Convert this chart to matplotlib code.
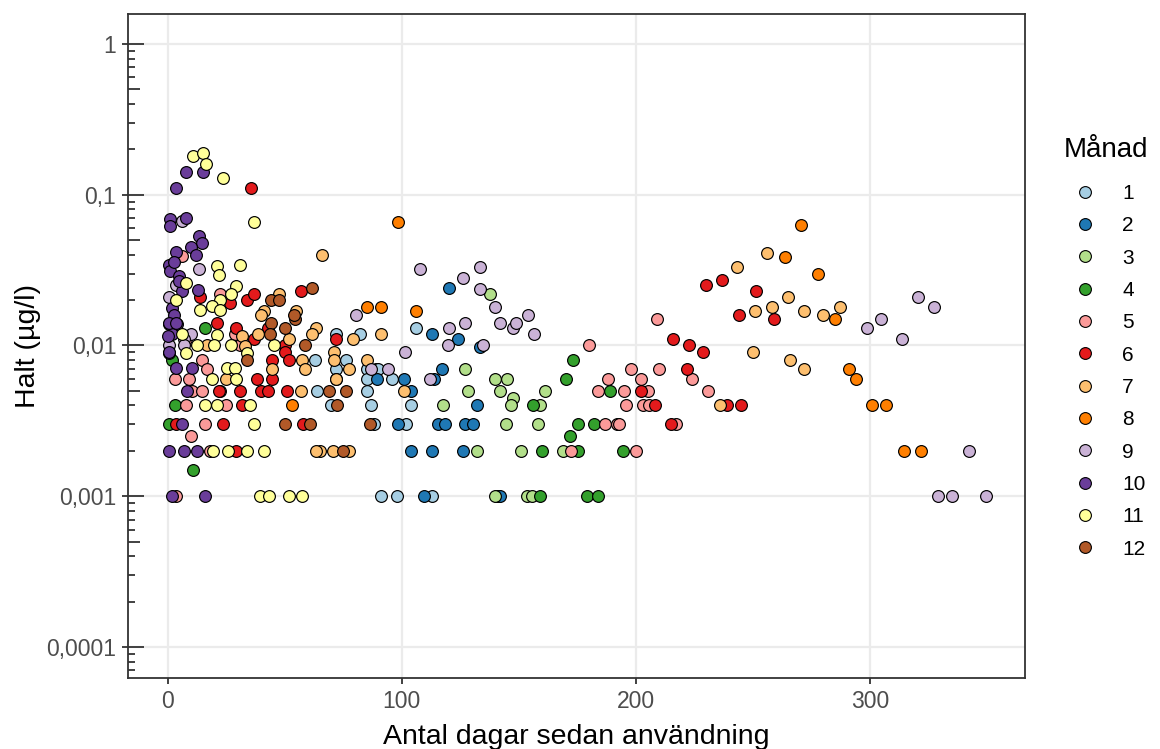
import matplotlib
matplotlib.use("Agg")
import matplotlib.pyplot as plt
from matplotlib.lines import Line2D
from matplotlib.transforms import blended_transform_factory
import numpy as np

plt.rcParams['font.family'] = ['Liberation Sans', 'DejaVu Sans']

# days since use / concentration (ug/l), one pair of lists per month
m01_day = [63, 64, 70, 72, 72, 72, 76, 82, 85, 85, 85, 87, 88, 89, 90, 91, 96, 98, 102, 104, 106, 113]
m01_conc = [0.008, 0.005, 0.004, 0.012, 0.007, 0.006, 0.008, 0.012, 0.007, 0.006, 0.005, 0.004, 0.003,
            0.007, 0.007, 0.001, 0.006, 0.001, 0.003, 0.004, 0.013, 0.001]

m02_day = [120, 113, 124, 133.5, 117, 114, 89.5, 101, 104, 132, 98.5, 115.5, 118.5, 127, 130.5, 104, 113,
           126, 109.5, 140.5, 142]
m02_conc = [0.024, 0.012, 0.011, 0.0098, 0.007, 0.006, 0.006, 0.006, 0.005, 0.004, 0.003, 0.003, 0.003,
            0.003, 0.003, 0.002, 0.002, 0.002, 0.001, 0.001, 0.001]

m03_day = [137.5, 127, 140, 145, 142, 147.5, 128.5, 161, 117.5, 146.5, 159, 144.5, 158, 132, 151, 169,
           140, 153.5, 155.5]
m03_conc = [0.022, 0.007, 0.006, 0.006, 0.005, 0.0045, 0.005, 0.005, 0.004, 0.004, 0.004, 0.003, 0.003,
            0.002, 0.002, 0.002, 0.001, 0.001, 0.001]

m04_day = [173, 170, 189, 175.5, 182, 172, 175.5, 194.5, 179, 184, 156, 160, 159, 3, 0.6, 11, 1.7, 16]
m04_conc = [0.008, 0.006, 0.005, 0.003, 0.003, 0.0025, 0.002, 0.002, 0.001, 0.001, 0.004, 0.002, 0.001,
            0.004, 0.003, 0.0015, 0.008, 0.013]

m05_day = [209, 180, 198, 210, 188, 202, 224, 184, 195, 205, 231, 196, 203, 205.5, 187, 192, 193, 217,
           172.5, 200,
           6, 22.6, 29, 7.7, 31, 14.8, 17, 3, 9, 10.5, 14.8, 22.6, 7.7, 25, 16, 10, 18, 3.4]
m05_conc = [0.015, 0.01, 0.007, 0.007, 0.006, 0.006, 0.006, 0.005, 0.005, 0.005, 0.005, 0.004, 0.004,
            0.004, 0.003, 0.003, 0.003, 0.003, 0.002, 0.002,
            0.039, 0.022, 0.012, 0.011, 0.01, 0.008, 0.007, 0.006, 0.006, 0.005, 0.005, 0.005, 0.004,
            0.004, 0.003, 0.0025, 0.002, 0.001]

m06_day = [35.7, 230, 237, 251.5, 244, 259, 216, 222.7, 228.7, 222, 202, 208, 239, 245, 215,
           13.8, 26.8, 34, 36.8, 21, 29.4, 42.8, 36.8, 50, 50, 44.6, 51.7, 38, 44.6, 22, 30.8, 39.7,
           42.8, 51, 32, 3.4, 23.8, 58, 29.4, 57, 72]
m06_conc = [0.11, 0.025, 0.027, 0.023, 0.016, 0.015, 0.011, 0.01, 0.009, 0.007, 0.005, 0.004, 0.004,
            0.004, 0.003,
            0.021, 0.019, 0.02, 0.022, 0.014, 0.013, 0.013, 0.011, 0.01, 0.009, 0.008, 0.008, 0.006,
            0.006, 0.005, 0.005, 0.005, 0.005, 0.005, 0.004, 0.003, 0.003, 0.003, 0.002, 0.023, 0.011]

m07_day = [243, 250.7, 256, 258, 265, 272, 280, 287, 250, 266, 272, 236,
           66, 79, 91, 71, 71, 77.7, 85, 72, 100.8, 65, 70.6, 77.7, 41, 47.5, 55, 63.5, 61.7, 51.7,
           57.4, 44.6, 58.8, 57, 63.5, 32, 38.5, 25, 39.7, 33, 17]
m07_conc = [0.033, 0.017, 0.041, 0.018, 0.021, 0.017, 0.016, 0.018, 0.009, 0.008, 0.007, 0.004,
            0.04, 0.011, 0.012, 0.009, 0.008, 0.007, 0.008, 0.006, 0.005, 0.002, 0.002, 0.002, 0.017,
            0.022, 0.017, 0.013, 0.012, 0.011, 0.008, 0.007, 0.007, 0.005, 0.002, 0.0115, 0.012, 0.006,
            0.016, 0.0099, 0.01]

m08_day = [98.3, 85, 91, 106, 53, 270.5, 263.5, 277.7, 285, 291, 294, 301, 307, 314.4, 321.8]
m08_conc = [0.066, 0.018, 0.018, 0.017, 0.004, 0.063, 0.0385, 0.03, 0.015, 0.007, 0.006, 0.004, 0.004,
            0.002, 0.002]

m09_day = [108, 126, 133.5, 133.5, 140, 154, 142, 147.4, 149, 156.5, 127, 120, 119.6, 134.8, 80.6, 101.5,
           94, 87, 112,
           320.4, 327.5, 304.5, 298.6, 313.6, 342.4, 329, 335, 349.5,
           6, 13.3, 3.4, 0.6, 9.8, 7, 0.6, 7]
m09_conc = [0.032, 0.028, 0.033, 0.0236, 0.018, 0.016, 0.014, 0.013, 0.014, 0.012, 0.014, 0.013, 0.01,
            0.01, 0.016, 0.009, 0.007, 0.007, 0.006,
            0.021, 0.018, 0.015, 0.013, 0.011, 0.002, 0.001, 0.001, 0.001,
            0.067, 0.032, 0.025, 0.021, 0.012, 0.011, 0.01, 0.01]

m10_day = [3.7, 8, 15, 1, 1, 8, 13.4, 14.8, 10.2, 3.4, 12, 0.6, 1, 4.8, 6.3, 13, 2.7, 4.8, 2, 2.7, 0.6,
           4.1, 2, 0, 0.6, 3.8, 10.5, 8.4, 6.3, 0.6, 7, 12.7, 2, 16, 0.6, 3.8, 0.6]
m10_conc = [0.11, 0.141, 0.141, 0.069, 0.062, 0.07, 0.053, 0.048, 0.045, 0.042, 0.04, 0.034, 0.031,
            0.029, 0.023, 0.0235, 0.036, 0.0266, 0.0178, 0.016, 0.0138, 0.0138, 0.012, 0.0115, 0.0089,
            0.0071, 0.0071, 0.005, 0.003, 0.002, 0.002, 0.002, 0.001, 0.001, 0.0141, 0.0141, 0.009]

m11_day = [10.8, 15, 16.6, 23.7, 36.8, 21, 22, 30.8, 7.7, 29.3, 3.4, 27, 22.3, 19, 22.3, 13.8, 21, 6.3,
           12.7, 19.8, 27, 7.7, 34, 45.6, 25.5, 29, 19, 29.4, 15.9, 21, 35.4, 36.8, 19.4, 26, 34, 41,
           39.6, 43.5, 51.7, 57.4]
m11_conc = [0.18, 0.19, 0.16, 0.13, 0.066, 0.0335, 0.0295, 0.034, 0.026, 0.0247, 0.02, 0.0218, 0.02,
            0.0183, 0.0173, 0.0173, 0.0118, 0.012, 0.01, 0.01, 0.01, 0.0089, 0.0089, 0.01, 0.0071,
            0.0071, 0.006, 0.006, 0.004, 0.004, 0.004, 0.003, 0.002, 0.002, 0.002, 0.002, 0.001, 0.001,
            0.001, 0.001]

m12_day = [61.7, 44, 47.5, 54.6, 54, 44, 50, 43.6, 58.8, 68.8, 76, 72.3, 50, 60.7, 86.6, 75, 34]
m12_conc = [0.024, 0.02, 0.02, 0.015, 0.016, 0.014, 0.013, 0.012, 0.01, 0.005, 0.005, 0.004, 0.003,
            0.003, 0.003, 0.002, 0.008]

month_labels = ['1', '2', '3', '4', '5', '6', '7', '8', '9', '10', '11', '12']
month_colors = ['#A6CEE3', '#1F78B4', '#B2DF8A', '#33A02C', '#FB9A99', '#E31A1C',
                '#FDBF6F', '#FF7F00', '#CAB2D6', '#6A3D9A', '#FFFF99', '#B15928']
series = [(m01_day, m01_conc), (m02_day, m02_conc), (m03_day, m03_conc), (m04_day, m04_conc),
          (m05_day, m05_conc), (m06_day, m06_conc), (m07_day, m07_conc), (m08_day, m08_conc),
          (m09_day, m09_conc), (m10_day, m10_conc), (m11_day, m11_conc), (m12_day, m12_conc)]

y_ticks = [0.0001, 0.001, 0.01, 0.1, 1]
y_ticklabels = ['0,0001', '0,001', '0,01', '0,1', '1']
x_ticks = [0, 100, 200, 300]

W, H = 1160, 749
fig = plt.figure(figsize=(W / 100, H / 100), dpi=100)
ax = fig.add_axes([128 / W, 1 - 678 / H, (1025 - 128) / W, (678 - 14) / H])

dark = '#333333'
grey = '#4D4D4D'

for (d, c), col in zip(series, month_colors):
    ax.scatter(d, c, s=72, color=col, edgecolor='black', linewidth=0.85, zorder=3)

ax.set_yscale('log')
ax.set_xlim(-16.9, 366.2)
ax.set_ylim(6.23e-5, 1.58)

ax.set_yticks(y_ticks)
ax.set_yticklabels(y_ticklabels)
ax.yaxis.set_minor_locator(matplotlib.ticker.NullLocator())
ax.set_xticks(x_ticks)

ax.grid(True, color='#EBEBEB', linewidth=1.6, zorder=0)
ax.set_axisbelow(True)

for sp in ax.spines.values():
    sp.set_color(dark)
    sp.set_linewidth(1.3)

ax.tick_params(axis='both', which='major', direction='out', length=4.5, width=1.3,
               color=dark, labelcolor=grey, labelsize=16.5, pad=4)

# log ticks drawn inside the left axis
tr = blended_transform_factory(ax.transAxes, ax.transData)
axw = 1025 - 128
for dec in [1e-5, 1e-4, 1e-3, 1e-2, 1e-1, 1]:
    for k in range(1, 10):
        v = dec * k
        if k == 1:
            L = 16
        elif k == 5:
            L = 12
        else:
            L = 7
        ax.plot([0, L / axw], [v, v], transform=tr, color=dark, linewidth=1.3,
                solid_capstyle='butt', zorder=4)

ax.set_xlabel('Antal dagar sedan användning', fontsize=20.5, color='black', labelpad=8)
ax.set_ylabel('Halt (µg/l)', fontsize=20.5, color='black', labelpad=4)

fig.text(1064 / W, 1 - 150 / H, 'Månad', fontsize=20, va='center', ha='left')
handles = [Line2D([0], [0], marker='o', linestyle='none', markersize=8.5,
                  markerfacecolor=col, markeredgecolor='black', markeredgewidth=0.8)
           for col in month_colors]
leg = fig.legend(handles, month_labels, loc='upper left',
                 bbox_to_anchor=(1068 / W, 1 - 184 / H), frameon=False,
                 fontsize=15, labelspacing=0.64,
                 handletextpad=1.0, handlelength=1.6, borderaxespad=0, borderpad=0)

fig.savefig('out.png', dpi=100)
